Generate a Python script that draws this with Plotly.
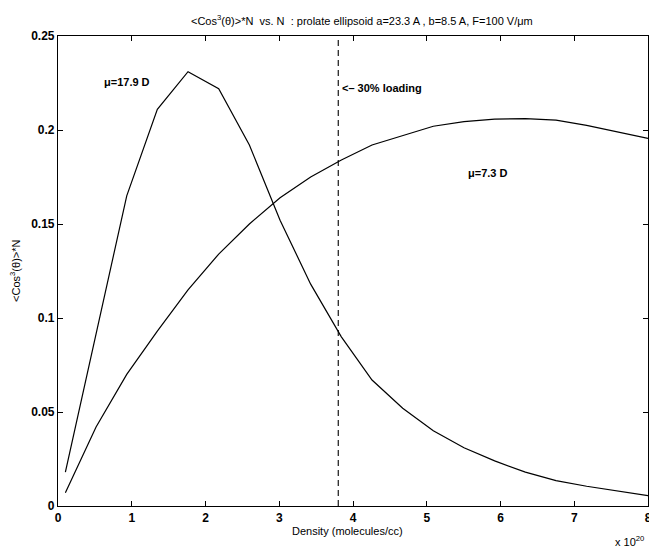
import plotly.graph_objects as go

# Density (x 10^20 molecules/cc)
density = [0.1, 0.516, 0.932, 1.347, 1.763, 2.179, 2.595, 3.011, 3.426, 3.842,
           4.258, 4.674, 5.089, 5.505, 5.921, 6.337, 6.753, 7.168, 7.584, 8.0]
mu_17_9 = [0.018, 0.092, 0.165, 0.211, 0.231, 0.222, 0.192, 0.152, 0.118, 0.090,
           0.067, 0.052, 0.040, 0.031, 0.024, 0.018, 0.0135, 0.0105, 0.008, 0.0055]
mu_7_3 = [0.007, 0.042, 0.070, 0.093, 0.115, 0.134, 0.150, 0.164, 0.175, 0.184,
          0.192, 0.197, 0.202, 0.2045, 0.2058, 0.206, 0.2052, 0.2025, 0.199, 0.1955]
loading_x = [3.8, 3.8]
loading_y = [0.0, 0.25]
x_ticks = [0, 1, 2, 3, 4, 5, 6, 7, 8]
y_ticks = [0, 0.05, 0.1, 0.15, 0.2, 0.25]
y_tick_labels = ["0", "0.05", "0.1", "0.15", "0.2", "0.25"]

FONT = "Liberation Sans, Arial, sans-serif"

fig = go.Figure()
fig.add_trace(go.Scatter(x=density, y=mu_17_9, mode="lines",
                         line=dict(color="black", width=1.2), showlegend=False))
fig.add_trace(go.Scatter(x=density, y=mu_7_3, mode="lines",
                         line=dict(color="black", width=1.2), showlegend=False))
fig.add_trace(go.Scatter(x=loading_x, y=loading_y, mode="lines",
                         line=dict(color="black", width=1.1, dash="6px,4px"),
                         showlegend=False))

axis_common = dict(showgrid=False, zeroline=False, showline=True, linecolor="black",
                   linewidth=1.2, mirror="ticks", ticks="inside", ticklen=5,
                   tickcolor="black", tickwidth=1, ticklabeloverflow="allow",
                   automargin=False,
                   tickfont=dict(family=FONT, size=12, color="black", weight="bold"))

fig.update_xaxes(range=[0, 8], tickvals=x_ticks, ticktext=[str(v) for v in x_ticks],
                 **axis_common)
fig.update_yaxes(range=[0, 0.25], tickvals=y_ticks, ticktext=y_tick_labels,
                 **axis_common)

annots = [
    dict(text="&lt;Cos<sup>3</sup>(θ)&gt;*N  vs. N  : prolate ellipsoid a=23.3 A , b=8.5 A, F=100 V/μm",
         xref="paper", yref="paper", x=0.515, y=1.034, xanchor="center", yanchor="middle",
         showarrow=False, font=dict(family=FONT, size=11, color="black")),
    dict(text="Density (molecules/cc)", xref="paper", yref="paper", x=0.49, y=-0.053,
         xanchor="center", yanchor="middle", showarrow=False,
         font=dict(family=FONT, size=11, color="black")),
    dict(text="&lt;Cos<sup>3</sup>(θ)&gt;*N", xref="paper", yref="paper", x=-0.073, y=0.5,
         xanchor="center", yanchor="middle", textangle=-90, showarrow=False,
         font=dict(family=FONT, size=11, color="black")),
    dict(text="x 10<sup>20</sup>", xref="paper", yref="paper", x=0.94, y=-0.075,
         xanchor="left", yanchor="middle", showarrow=False,
         font=dict(family=FONT, size=11, color="black")),
    dict(text="μ=17.9 D", x=0.6, y=0.2257, xanchor="left", yanchor="middle",
         showarrow=False, font=dict(family=FONT, size=11, color="black", weight="bold")),
    dict(text="&lt;– 30% loading", x=3.83, y=0.2225, xanchor="left", yanchor="middle",
         showarrow=False, font=dict(family=FONT, size=11, color="black", weight="bold")),
    dict(text="μ=7.3 D", x=5.53, y=0.1773, xanchor="left", yanchor="middle",
         showarrow=False, font=dict(family=FONT, size=11, color="black", weight="bold")),
]

fig.update_layout(width=649, height=546, margin=dict(l=58, r=1, t=36, b=40),
                  plot_bgcolor="white", paper_bgcolor="white", annotations=annots,
                  font=dict(family=FONT, color="black"))

fig.write_html("out.html", config={"displayModeBar": False},
               post_script="document.body.style.margin='0';document.body.style.overflow='hidden';")
